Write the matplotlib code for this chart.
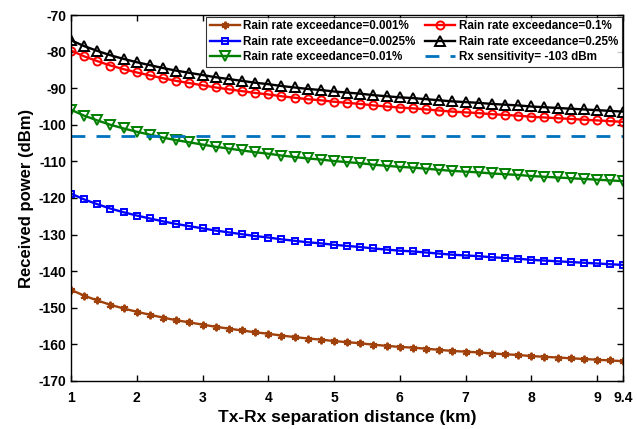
import numpy as np
import matplotlib
matplotlib.use("Agg")
import matplotlib.pyplot as plt

plt.rcParams['font.family'] = ['Liberation Sans', 'DejaVu Sans']
plt.rcParams['font.weight'] = 'bold'
plt.rcParams['axes.unicode_minus'] = False

distance_km = [1.0, 1.2, 1.4, 1.6, 1.8, 2.0, 2.2, 2.4, 2.6, 2.8, 3.0, 3.2, 3.4, 3.6, 3.8,
               4.0, 4.2, 4.4, 4.6, 4.8, 5.0, 5.2, 5.4, 5.6, 5.8, 6.0, 6.2, 6.4, 6.6, 6.8,
               7.0, 7.2, 7.4, 7.6, 7.8, 8.0, 8.2, 8.4, 8.6, 8.8, 9.0, 9.2, 9.4]

p_0001 = [-145.1, -146.7, -148.0, -149.2, -150.2, -151.1, -151.9, -152.7, -153.4, -154.0,
          -154.6, -155.2, -155.7, -156.2, -156.7, -157.1, -157.6, -158.0, -158.4, -158.7,
          -159.1, -159.4, -159.7, -160.1, -160.4, -160.7, -160.9, -161.2, -161.5, -161.8,
          -162.0, -162.2, -162.5, -162.7, -162.9, -163.2, -163.4, -163.6, -163.8, -164.0,
          -164.2, -164.4, -164.6]
p_00025 = [-118.8, -120.4, -121.7, -122.9, -123.9, -124.8, -125.6, -126.4, -127.1, -127.7,
           -128.3, -128.9, -129.4, -129.9, -130.4, -130.8, -131.3, -131.7, -132.1, -132.4,
           -132.8, -133.1, -133.4, -133.8, -134.1, -134.4, -134.6, -134.9, -135.2, -135.5,
           -135.7, -135.9, -136.2, -136.4, -136.6, -136.9, -137.1, -137.3, -137.5, -137.7,
           -137.9, -138.1, -138.3]
p_001 = [-95.9, -97.5, -98.8, -100.0, -101.0, -101.9, -102.7, -103.5, -104.2, -104.8,
         -105.4, -106.0, -106.5, -107.0, -107.5, -107.9, -108.4, -108.8, -109.2, -109.5,
         -109.9, -110.2, -110.5, -110.9, -111.2, -111.5, -111.7, -112.0, -112.3, -112.6,
         -112.8, -113.0, -113.3, -113.5, -113.7, -114.0, -114.2, -114.4, -114.6, -114.8,
         -115.0, -115.2, -115.4]
p_01 = [-79.7, -81.3, -82.6, -83.8, -84.8, -85.7, -86.5, -87.3, -88.0, -88.6,
        -89.2, -89.8, -90.3, -90.8, -91.3, -91.7, -92.2, -92.6, -93.0, -93.3,
        -93.7, -94.0, -94.3, -94.7, -95.0, -95.3, -95.5, -95.8, -96.1, -96.4,
        -96.6, -96.8, -97.1, -97.3, -97.5, -97.8, -98.0, -98.2, -98.4, -98.6,
        -98.8, -99.0, -99.2]
p_025 = [-76.9, -78.5, -79.8, -81.0, -82.0, -82.9, -83.7, -84.5, -85.2, -85.8,
         -86.4, -87.0, -87.5, -88.0, -88.5, -88.9, -89.4, -89.8, -90.2, -90.5,
         -90.9, -91.2, -91.5, -91.9, -92.2, -92.5, -92.7, -93.0, -93.3, -93.6,
         -93.8, -94.0, -94.3, -94.5, -94.7, -95.0, -95.2, -95.4, -95.6, -95.8,
         -96.0, -96.2, -96.4]
rx_sensitivity = -103

labels = ['Rain rate exceedance=0.001%', 'Rain rate exceedance=0.0025%',
          'Rain rate exceedance=0.01%', 'Rain rate exceedance=0.1%',
          'Rain rate exceedance=0.25%', 'Rx sensitivity= -103 dBm']
xticks = [1, 2, 3, 4, 5, 6, 7, 8, 9, 9.4]
xticklabels = ['1', '2', '3', '4', '5', '6', '7', '8', '9', '9.4']
yticks = [-170, -160, -150, -140, -130, -120, -110, -100, -90, -80, -70]

fig = plt.figure(figsize=(6.37, 4.29), dpi=100)
ax = fig.add_axes([0.1115, 0.112, 0.867, 0.853])

lw = 1.7
mew = 1.4
ax.plot(distance_km, p_0001, color='#A0400A', lw=lw, marker=(6, 2, 0), ms=5.5, mew=1.4,
        label=labels[0])
ax.plot(distance_km, p_00025, color='#0000FF', lw=lw, marker='s', ms=4.8, mfc='none', mew=mew,
        label=labels[1])
ax.plot(distance_km, p_001, color='#007F00', lw=lw, marker='v', ms=6.8, mfc='none', mew=mew,
        label=labels[2])
ax.plot(distance_km, p_01, color='#FF0000', lw=lw, marker='o', ms=5.8, mfc='none', mew=mew,
        label=labels[3])
ax.plot(distance_km, p_025, color='#000000', lw=lw, marker='^', ms=6.8, mfc='none', mew=mew,
        label=labels[4])
ax.plot([distance_km[0], distance_km[-1]], [rx_sensitivity, rx_sensitivity], color='#0072BD',
        lw=2.0, ls=(0, (5, 4)), label=labels[5])

ax.set_xlim(1, 9.4)
ax.set_ylim(-170, -70)
ax.set_xticks(xticks)
ax.set_xticklabels(xticklabels)
ax.set_yticks(yticks)
ax.tick_params(direction='in', labelsize=10, width=1, length=4, top=True, right=True)
ax.tick_params(axis='x', pad=7)
for lab in ax.get_xticklabels() + ax.get_yticklabels():
    lab.set_fontweight('bold')
for s in ax.spines.values():
    s.set_linewidth(1.0)

ax.set_xlabel('Tx-Rx separation distance (km)', fontsize=12.5, fontweight='bold', labelpad=4)
ax.set_ylabel('Received power (dBm)', fontsize=12, fontweight='bold', labelpad=3)

leg = ax.legend(ncol=2, loc='upper right', frameon=True, fancybox=False, numpoints=1,
                edgecolor='black', handlelength=2.6, columnspacing=0.8, handletextpad=0.3,
                labelspacing=0.3, borderpad=0.3, borderaxespad=0.15,
                prop={'weight': 'bold', 'size': 8.4})
leg.get_frame().set_linewidth(0.8)

fig.savefig('out.png', dpi=100)
